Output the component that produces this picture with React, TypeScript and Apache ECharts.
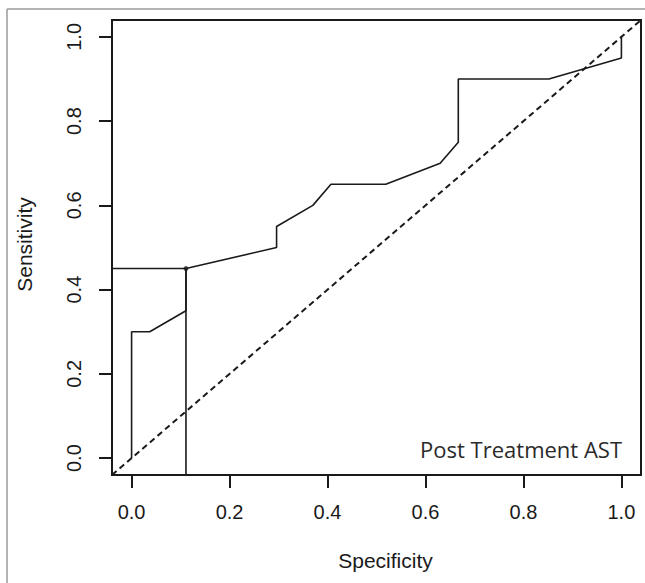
import React, { useEffect, useRef } from "react";
import * as echarts from "echarts";

// ROC curve
const specificity = [0, 0, 0.037, 0.111, 0.111, 0.296, 0.296, 0.37, 0.407, 0.519, 0.63, 0.667, 0.667, 0.852, 1.0, 1.0];
const sensitivity = [0, 0.3, 0.3, 0.35, 0.45, 0.5, 0.55, 0.6, 0.65, 0.65, 0.7, 0.75, 0.9, 0.9, 0.95, 1.0];

// optimal cut-off point
const cutSpec = 0.111;
const cutSens = 0.45;

// axis range (R style 4% extension) and ticks
const axisMin = -0.04;
const axisMax = 1.04;
const tickValues = [0, 0.2, 0.4, 0.6, 0.8, 1.0];
const tickLabels = ["0.0", "0.2", "0.4", "0.6", "0.8", "1.0"];

const xTitle = "Specificity";
const yTitle = "Sensitivity";
const panelLabel = "Post Treatment AST";

const ink = "#1a1a1a";

export default function App() {
  const ref = useRef<HTMLDivElement>(null);

  useEffect(() => {
    if (!ref.current) return;
    const chart = echarts.init(ref.current, undefined, { renderer: "svg" });

    const fmt = (v: number) => {
      const i = tickValues.findIndex((t) => Math.abs(t - v) < 1e-9);
      return i >= 0 ? tickLabels[i] : "";
    };

    const labelFont = {
      fontFamily: "Liberation Sans, Arial, sans-serif",
      fontSize: 20,
      lineHeight: 20,
      color: ink,
    };

    const curve = specificity.map((s, i) => [s, sensitivity[i]]);

    chart.setOption({
      animation: false,
      backgroundColor: "#ffffff",
      grid: {
        left: 112,
        top: 20,
        width: 529,
        height: 455,
        show: true,
        borderColor: ink,
        borderWidth: 2,
        backgroundColor: "transparent",
        containLabel: false,
        outerBoundsMode: "none",
      },
      xAxis: {
        type: "value",
        min: axisMin,
        max: axisMax,
        axisLine: { show: false, onZero: false },
        splitLine: { show: false },
        axisTick: {
          show: true,
          inside: false,
          length: 13,
          customValues: tickValues,
          lineStyle: { color: ink, width: 2 },
        },
        axisLabel: {
          customValues: tickValues,
          formatter: fmt,
          margin: 27,
          ...labelFont,
        },
        name: xTitle,
        nameLocation: "middle",
        nameGap: 75,
        nameTextStyle: {
          fontFamily: "Liberation Sans, Arial, sans-serif",
          fontSize: 21,
          lineHeight: 21,
          color: ink,
          padding: [0, 0, 0, 18],
        },
      },
      yAxis: {
        type: "value",
        min: axisMin,
        max: axisMax,
        axisLine: { show: false, onZero: false },
        splitLine: { show: false },
        axisTick: {
          show: true,
          inside: false,
          length: 13,
          customValues: tickValues,
          lineStyle: { color: ink, width: 2 },
        },
        axisLabel: {
          customValues: tickValues,
          formatter: fmt,
          rotate: 90,
          margin: 28,
          ...labelFont,
        },
        name: yTitle,
        nameLocation: "middle",
        nameRotate: 90,
        nameGap: 77,
        nameTextStyle: {
          fontFamily: "Liberation Sans, Arial, sans-serif",
          fontSize: 21,
          lineHeight: 21,
          color: ink,
          padding: [0, 0, 0, 6],
        },
      },
      series: [
        {
          type: "line",
          name: "diagonal",
          data: [
            [axisMin, axisMin],
            [axisMax, axisMax],
          ],
          showSymbol: false,
          lineStyle: { color: ink, width: 2, type: [6, 4] },
          silent: true,
        },
        {
          type: "line",
          name: "cutH",
          data: [
            [axisMin, cutSens],
            [cutSpec, cutSens],
          ],
          showSymbol: false,
          lineStyle: { color: ink, width: 1.6 },
          silent: true,
        },
        {
          type: "line",
          name: "cutV",
          data: [
            [cutSpec, axisMin],
            [cutSpec, cutSens],
          ],
          showSymbol: false,
          lineStyle: { color: ink, width: 1.6 },
          silent: true,
        },
        {
          type: "line",
          name: "ROC",
          data: curve,
          showSymbol: false,
          lineStyle: { color: ink, width: 1.6 },
          silent: true,
        },
        {
          type: "scatter",
          name: "cut",
          data: [[cutSpec, cutSens]],
          symbolSize: 5,
          itemStyle: { color: ink },
          silent: true,
        },
      ],
      graphic: [
        {
          type: "line",
          shape: { x1: 7, y1: 9, x2: 645, y2: 9 },
          style: { stroke: "#9a9a9a", lineWidth: 1.5 },
          silent: true,
        },
        {
          type: "line",
          shape: { x1: 7, y1: 9, x2: 7, y2: 583 },
          style: { stroke: "#9a9a9a", lineWidth: 1.5 },
          silent: true,
        },
        {
          type: "text",
          x: 622,
          y: 449,
          silent: true,
          style: {
            text: panelLabel,
            fill: "#2a2a2a",
            font: '22px "Open Sans", "Noto Sans", sans-serif',
            textAlign: "right",
            textVerticalAlign: "middle",
          },
        },
      ],
    });

    return () => chart.dispose();
  }, []);

  return (
    <div
      ref={ref}
      style={{ position: "absolute", left: 0, top: 0, width: 645, height: 583 }}
    />
  );
}
